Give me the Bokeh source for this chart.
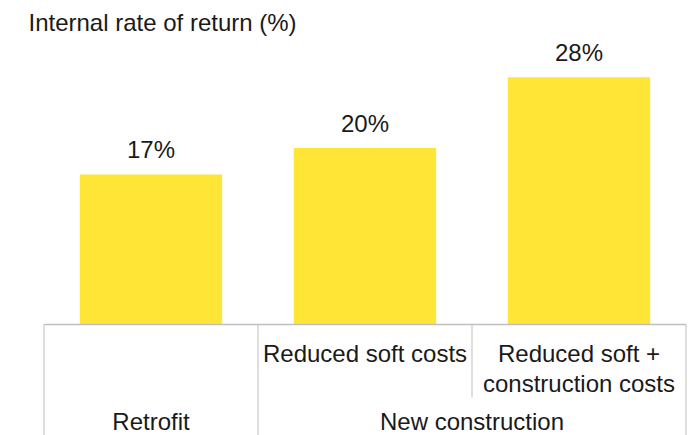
from bokeh.plotting import figure
from bokeh.models import Range1d
from bokeh.core.properties import value
from bokeh.embed import file_html
from bokeh.resources import INLINE

# ---- data ----
chart_title = "Internal rate of return (%)"
categories = ["Retrofit", "Reduced soft costs", "Reduced soft + construction costs"]
irr_values = [17, 20, 28]
value_labels = ["17%", "20%", "28%"]
sub_labels = [[], ["Reduced soft costs"], ["Reduced soft +", "construction costs"]]
group_labels = ["Retrofit", "New construction"]
group_members = [[0], [1, 2]]

# ---- layout ----
W, H = 692, 435
PX_X = 214.0      # pixels per category
PX_Y = 8.83       # pixels per percentage point
x0 = -0.5 - 43.5 / PX_X
x1 = x0 + W / PX_X
base_px = 324
y1 = base_px / PX_Y
y0 = y1 - H / PX_Y
SHIFT = -8        # text baseline correction

FONT = value("Liberation Sans")
FS = "24px"
TXT = "#1a1a1a"
LINE = "#bfbfbf"
BAR = "#ffe536"

p = figure(width=W, height=H, x_range=Range1d(x0, x1), y_range=Range1d(y0, y1),
           output_backend="svg", toolbar_location=None, min_border=0,
           x_axis_location=None, y_axis_location=None)
p.grid.visible = False
p.outline_line_color = None
p.background_fill_color = "white"
p.border_fill_color = "white"

xs = list(range(len(categories)))

# bars
p.vbar(x=xs, top=irr_values, bottom=0, width=0.665, fill_color=BAR, line_color=None)

# value labels
p.text(x=xs, y=irr_values, text=value_labels, text_align="center",
       text_baseline="alphabetic", y_offset=-16.5 + SHIFT, text_font=FONT,
       text_font_size=FS, text_color=TXT)

# title
p.text(x=[x0], y=[y1], text=[chart_title], text_align="left",
       text_baseline="alphabetic", x_offset=28, y_offset=29.5 + SHIFT, text_font=FONT,
       text_font_size=FS, text_color=TXT)

# table-style category axis
n = len(categories)
p.segment(x0=[-0.5], y0=[0], x1=[n - 0.5], y1=[0], line_color=LINE, line_width=1.5)
sub_bottom = -73 / PX_Y
bx, by = [], []
for k in range(n + 1):
    b = k - 0.5
    inner = any(b > min(m) - 0.5 and b < max(m) + 0.5 for m in group_members)
    bx.append(b)
    by.append(sub_bottom if inner else y0)
p.segment(x0=bx, y0=[0] * len(bx), x1=bx, y1=by, line_color=LINE, line_width=1)

# sub-category labels
sx, sy, st, so = [], [], [], []
for i, lines in enumerate(sub_labels):
    for j, ln in enumerate(lines):
        sx.append(i)
        sy.append(0)
        st.append(ln)
        so.append(36.5 + 30 * j + SHIFT)
p.text(x=sx, y=sy, text=st, y_offset=so, text_align="center",
       text_baseline="alphabetic", text_font=FONT, text_font_size=FS, text_color=TXT)

# group labels
gx = [sum(m) / len(m) for m in group_members]
p.text(x=gx, y=[0] * len(gx), text=group_labels, y_offset=105 + SHIFT, text_align="center",
       text_baseline="alphabetic", text_font=FONT, text_font_size=FS, text_color=TXT)

open("out.html", "w").write(file_html(p, INLINE))
